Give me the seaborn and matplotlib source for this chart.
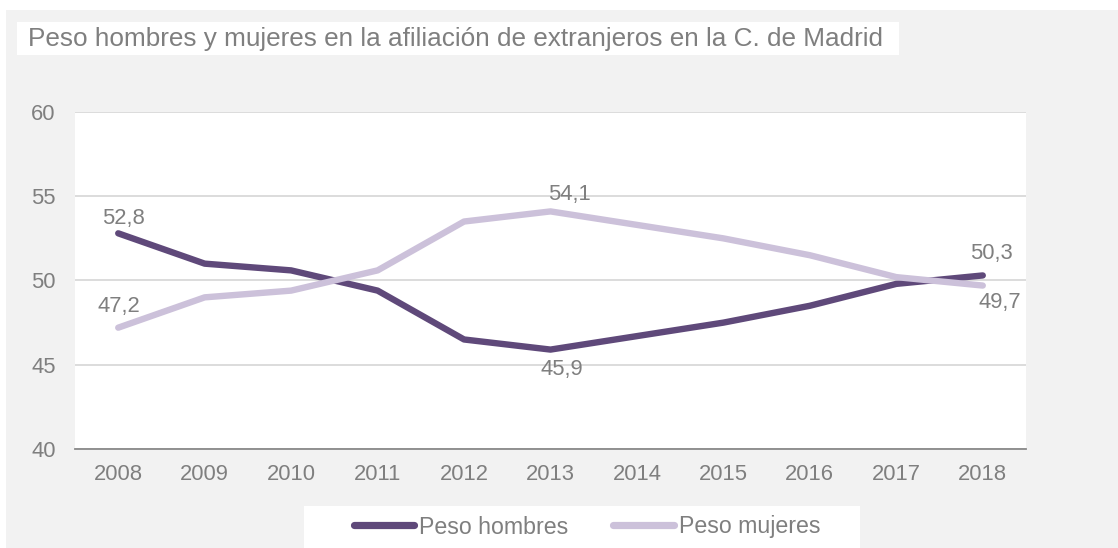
import matplotlib
matplotlib.use("Agg")
import matplotlib.pyplot as plt
from matplotlib.patches import Rectangle
import seaborn as sns
import pandas as pd

# ---- data ----
years = [2008, 2009, 2010, 2011, 2012, 2013, 2014, 2015, 2016, 2017, 2018]
peso_hombres = [52.8, 51.0, 50.6, 49.4, 46.5, 45.9, 46.7, 47.5, 48.5, 49.8, 50.3]
peso_mujeres = [47.2, 49.0, 49.4, 50.6, 53.5, 54.1, 53.3, 52.5, 51.5, 50.2, 49.7]
series_names = ["Peso hombres", "Peso mujeres"]
title_text = "Peso hombres y mujeres en la afiliación de extranjeros en la C. de Madrid"
y_ticks = [40, 45, 50, 55, 60]

# labelled points: (series, year index)
labelled = [("Peso hombres", 0), ("Peso mujeres", 0), ("Peso mujeres", 5),
            ("Peso hombres", 5), ("Peso hombres", 10), ("Peso mujeres", 10)]

df = pd.DataFrame({
    "year": years * 2,
    "value": peso_hombres + peso_mujeres,
    "serie": [series_names[0]] * len(years) + [series_names[1]] * len(years),
})

sns.set_theme(style="white")
plt.rcParams["font.family"] = ["Liberation Sans", "DejaVu Sans"]

W, H = 1118, 548
DPI = 100
fig = plt.figure(figsize=(W / DPI, H / DPI), dpi=DPI, facecolor="white")

GREY_BG = "#F2F2F2"
TXT = "#7F7F7F"
C_H = "#5F497A"
C_M = "#CCC1DA"


def fx(px):
    return px / W


def fy(py):
    return 1 - py / H


# outer grey panel
fig.patches.append(Rectangle((fx(6), 0), fx(W - 6), fy(10), transform=fig.transFigure,
                             facecolor=GREY_BG, edgecolor="none", zorder=-3))
# title box
fig.patches.append(Rectangle((fx(17), fy(55)), fx(899 - 17), (55 - 22) / H,
                             transform=fig.transFigure, facecolor="white",
                             edgecolor="none", zorder=-2))
fig.text(fx(28), fy(39), title_text, color=TXT, fontsize=18.8, va="center", ha="left",
         zorder=3)

# legend box
fig.patches.append(Rectangle((fx(304), 0), fx(860 - 304), (548 - 506) / H,
                             transform=fig.transFigure, facecolor="white",
                             edgecolor="none", zorder=-2))

# axes
left, right, top, bottom = 75, 1026, 112, 449
ax = fig.add_axes([fx(left), fy(bottom), fx(right - left), (bottom - top) / H])
ax.set_zorder(1)
ax.set_facecolor("white")

sns.lineplot(data=df, x="year", y="value", hue="serie",
             palette={series_names[0]: C_H, series_names[1]: C_M},
             hue_order=series_names, linewidth=4.6, ax=ax, legend=True,
             solid_capstyle="round", solid_joinstyle="round", zorder=3)

ax.set_xlim(years[0] - 0.5, years[-1] + 0.5)
ax.set_ylim(y_ticks[0], y_ticks[-1])
ax.set_yticks(y_ticks)
ax.set_xticks(years)
ax.set_xticklabels([str(y) for y in years])
ax.set_xlabel("")
ax.set_ylabel("")
ax.grid(axis="y", color="#D9D9D9", linewidth=1.3)
ax.grid(axis="x", visible=False)
ax.set_axisbelow(True)
for s in ["top", "right", "left"]:
    ax.spines[s].set_visible(False)
ax.spines["bottom"].set_color("#898989")
ax.spines["bottom"].set_linewidth(1.3)
ax.spines["bottom"].set_zorder(2)
ax.tick_params(axis="both", length=0, labelsize=15.8, labelcolor=TXT)
ax.tick_params(axis="x", pad=11)
ax.tick_params(axis="y", pad=14)

# data labels
vals = {series_names[0]: peso_hombres, series_names[1]: peso_mujeres}
offsets = {
    ("Peso hombres", 0): (3.6, 11),
    ("Peso mujeres", 0): (0.7, 15),
    ("Peso mujeres", 5): (13.7, 12.2),
    ("Peso hombres", 5): (8, -14.4),
    ("Peso hombres", 10): (6.5, 15.8),
    ("Peso mujeres", 10): (12.2, -12.2),
}
for serie, i in labelled:
    v = vals[serie][i]
    ax.annotate(f"{v:.1f}".replace(".", ","), (years[i], v),
                xytext=offsets[(serie, i)], textcoords="offset points",
                ha="center", va="center", fontsize=15.8, color=TXT, zorder=4)

# legend
handles, labels = ax.get_legend_handles_labels()
for h in handles:
    h.set_linewidth(5.2)
    h.set_solid_capstyle("round")
ax.legend_.remove()
fig.legend(handles, labels, loc="center", bbox_to_anchor=(fx(587), fy(527)),
           ncol=2, frameon=False, fontsize=16.7, labelcolor=TXT,
           handlelength=2.6, handletextpad=0.22, columnspacing=1.95,
           borderaxespad=0, borderpad=0)

fig.savefig("out.png", dpi=DPI, facecolor="white")
